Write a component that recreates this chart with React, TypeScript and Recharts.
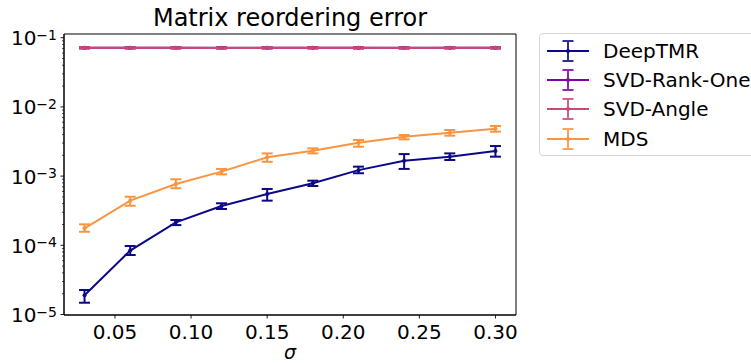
import { LineChart, Line, XAxis, YAxis, ErrorBar, Legend, Label, ReferenceArea } from "recharts";

const sigma = [0.03, 0.06, 0.09, 0.12, 0.15, 0.18, 0.21, 0.24, 0.27, 0.3];

const deepTmr = [1.9e-5, 8.4e-5, 2.15e-4, 3.7e-4, 5.5e-4, 7.9e-4, 1.22e-3, 1.67e-3, 1.9e-3, 2.3e-3];
const deepTmrLow = [1.48e-5, 7.24e-5, 1.96e-4, 3.35e-4, 4.42e-4, 7.19e-4, 1.1e-3, 1.27e-3, 1.71e-3, 1.91e-3];
const deepTmrHigh = [2.26e-5, 9.77e-5, 2.32e-4, 4.05e-4, 6.52e-4, 8.59e-4, 1.37e-3, 2.08e-3, 2.13e-3, 2.72e-3];

const rankOne = [0.0715, 0.0714, 0.0715, 0.0713, 0.0714, 0.0715, 0.0714, 0.0713, 0.0715, 0.0714];
const rankOneErr = [0.0015, 0.0015, 0.0015, 0.0015, 0.0015, 0.0015, 0.0015, 0.0015, 0.0015, 0.0015];

const angle = [0.0714, 0.0713, 0.0714, 0.0712, 0.0713, 0.0714, 0.0713, 0.0712, 0.0714, 0.0713];
const angleErr = [0.0015, 0.0015, 0.0015, 0.0015, 0.0015, 0.0015, 0.0015, 0.0015, 0.0015, 0.0015];

const mds = [1.76e-4, 4.42e-4, 7.69e-4, 1.16e-3, 1.87e-3, 2.33e-3, 3.04e-3, 3.71e-3, 4.24e-3, 4.84e-3];
const mdsLow = [1.57e-4, 3.73e-4, 6.67e-4, 1.06e-3, 1.61e-3, 2.13e-3, 2.66e-3, 3.4e-3, 3.84e-3, 4.39e-3];
const mdsHigh = [2.01e-4, 5.03e-4, 9.0e-4, 1.27e-3, 2.13e-3, 2.52e-3, 3.33e-3, 3.93e-3, 4.64e-3, 5.3e-3];

const xTicks = [0.05, 0.1, 0.15, 0.2, 0.25, 0.3];
const yMajor = [1e-5, 1e-4, 1e-3, 1e-2, 1e-1];

const xDomain = [0.0165, 0.3135];
const yDomain = [9.84e-6, 0.1131];

const colors = {
  deep: "#0d0887",
  rank: "#7e03a8",
  angle: "#cc4778",
  mds: "#f89540",
};

const series = [
  { key: "deep", name: "DeepTMR", color: colors.deep },
  { key: "rank", name: "SVD-Rank-One", color: colors.rank },
  { key: "angle", name: "SVD-Angle", color: colors.angle },
  { key: "mds", name: "MDS", color: colors.mds },
];

const data = sigma.map((s, i) => ({
  sigma: s,
  deep: deepTmr[i],
  deepErr: [deepTmr[i] - deepTmrLow[i], deepTmrHigh[i] - deepTmr[i]],
  rank: rankOne[i],
  rankErr: rankOneErr[i],
  angle: angle[i],
  angleErr: angleErr[i],
  mds: mds[i],
  mdsErr: [mds[i] - mdsLow[i], mdsHigh[i] - mds[i]],
}));

// minor log ticks 2..9 per decade
const yMinor: number[] = [];
yMajor.slice(0, 4).forEach((d) => {
  for (let k = 2; k <= 9; k++) yMinor.push(+(d * k).toPrecision(2));
});
const yTicks = [...yMajor, ...yMinor];

const font = "'DejaVu Sans', sans-serif";

const YTick = (props: any) => {
  const { x, y, payload } = props;
  const v = payload.value;
  const exp = Math.round(Math.log10(v));
  const major = Math.abs(Math.log10(v) - exp) < 1e-6;
  return (
    <g>
      <line x1={x} x2={x - (major ? 3.5 : 2)} y1={y} y2={y} stroke="#000" strokeWidth={major ? 0.9 : 0.7} />
      {major && (
        <text x={x - 7} y={y + 7.5} textAnchor="end" fontSize={20} fontFamily={font} fill="#000">
          <tspan>10</tspan>
          <tspan dy={-5.5} fontSize={14}>{"\u2212" + Math.abs(exp)}</tspan>
        </text>
      )}
    </g>
  );
};

const XTick = (props: any) => {
  const { x, y, payload } = props;
  return (
    <g>
      <line x1={x} x2={x} y1={y} y2={y + 3.5} stroke="#000" strokeWidth={0.9} />
      <text x={x} y={y + 24} textAnchor="middle" fontSize={20} fontFamily={font} fill="#000">
        {payload.value.toFixed(2)}
      </text>
    </g>
  );
};

const LegendBox = () => (
  <div
    style={{
      width: 230,
      height: 123,
      border: "1px solid #d6d6d6",
      borderRadius: 4,
      background: "#fff",
      boxSizing: "border-box",
      position: "relative",
    }}
  >
    {series.map((s, i) => (
      <div key={s.key} style={{ position: "absolute", left: 0, top: 2 + i * 29.2, height: 30, width: 230 }}>
        <svg width={60} height={30} style={{ position: "absolute", left: 0, top: 0 }}>
          <line x1={7} x2={49} y1={15} y2={15} stroke={s.color} strokeWidth={2} />
          <g opacity={0.85}>
            <line x1={28} x2={28} y1={5} y2={25} stroke={s.color} strokeWidth={2} />
            <line x1={22.5} x2={33.5} y1={5} y2={5} stroke={s.color} strokeWidth={2} />
            <line x1={22.5} x2={33.5} y1={25} y2={25} stroke={s.color} strokeWidth={2} />
          </g>
          <circle cx={28} cy={15} r={2} fill={s.color} />
        </svg>
        <span
          style={{
            position: "absolute",
            left: 63,
            top: 3,
            fontSize: 20,
            fontFamily: font,
            color: "#000",
            lineHeight: "24px",
            whiteSpace: "nowrap",
          }}
        >
          {s.name}
        </span>
      </div>
    ))}
  </div>
);

export default function App() {
  return (
    <div style={{ position: "absolute", left: 0, top: 0, width: 751, height: 363, overflow: "hidden", background: "#fff" }}>
      <div
        style={{
          position: "absolute",
          left: 64,
          width: 452,
          top: 3,
          textAlign: "center",
          fontSize: 24,
          fontFamily: font,
          lineHeight: "30px",
          color: "#000",
        }}
      >
        Matrix reordering error
      </div>
      <LineChart width={751} height={363} data={data} margin={{ top: 34, right: 235, bottom: 0, left: 0 }}>
        <XAxis
          dataKey="sigma"
          type="number"
          domain={xDomain}
          ticks={xTicks}
          allowDataOverflow
          height={48}
          tickSize={0}
          tickMargin={0}
          tickLine={false}
          tick={<XTick />}
          axisLine={{ stroke: "#000", strokeWidth: 1 }}
        >
          <Label
            content={(p: any) => (
              <text
                x={p.viewBox.x + p.viewBox.width / 2}
                y={p.viewBox.y + 44}
                textAnchor="middle"
                fontSize={19}
                fontStyle="italic"
                fontFamily={font}
                fill="#000"
              >
                σ
              </text>
            )}
          />
        </XAxis>
        <YAxis
          type="number"
          scale="log"
          domain={yDomain}
          allowDataOverflow
          ticks={yTicks}
          interval={0}
          width={64}
          tickSize={0}
          tickMargin={0}
          tickLine={false}
          tick={<YTick />}
          axisLine={{ stroke: "#000", strokeWidth: 1 }}
        />
        <ReferenceArea
          x1={xDomain[0]}
          x2={xDomain[1]}
          y1={yDomain[0]}
          y2={yDomain[1]}
          fill="none"
          fillOpacity={0}
          stroke="#000"
          strokeWidth={1}
          ifOverflow="visible"
        />
        <Legend
          layout="horizontal"
          verticalAlign="middle"
          align="center"
          content={() => <LegendBox />}
          wrapperStyle={{ position: "absolute", left: 539, top: 33, width: 230, height: 123 }}
        />
        <Line dataKey="deep" name="DeepTMR" stroke={colors.deep} strokeWidth={2} dot={{ r: 2, fill: colors.deep, stroke: colors.deep, strokeWidth: 0 }} isAnimationActive={false}>
          <ErrorBar dataKey="deepErr" direction="y" width={5.5} stroke={colors.deep} strokeWidth={2} />
        </Line>
        <Line dataKey="rank" name="SVD-Rank-One" stroke={colors.rank} strokeWidth={2} dot={{ r: 2, fill: colors.rank, stroke: colors.rank, strokeWidth: 0 }} isAnimationActive={false}>
          <ErrorBar dataKey="rankErr" direction="y" width={5.5} stroke={colors.rank} strokeWidth={2} />
        </Line>
        <Line dataKey="angle" name="SVD-Angle" stroke={colors.angle} strokeWidth={2} dot={{ r: 2, fill: colors.angle, stroke: colors.angle, strokeWidth: 0 }} isAnimationActive={false}>
          <ErrorBar dataKey="angleErr" direction="y" width={5.5} stroke={colors.angle} strokeWidth={2} />
        </Line>
        <Line dataKey="mds" name="MDS" stroke={colors.mds} strokeWidth={2} dot={{ r: 2, fill: colors.mds, stroke: colors.mds, strokeWidth: 0 }} isAnimationActive={false}>
          <ErrorBar dataKey="mdsErr" direction="y" width={5.5} stroke={colors.mds} strokeWidth={2} />
        </Line>
      </LineChart>
    </div>
  );
}
